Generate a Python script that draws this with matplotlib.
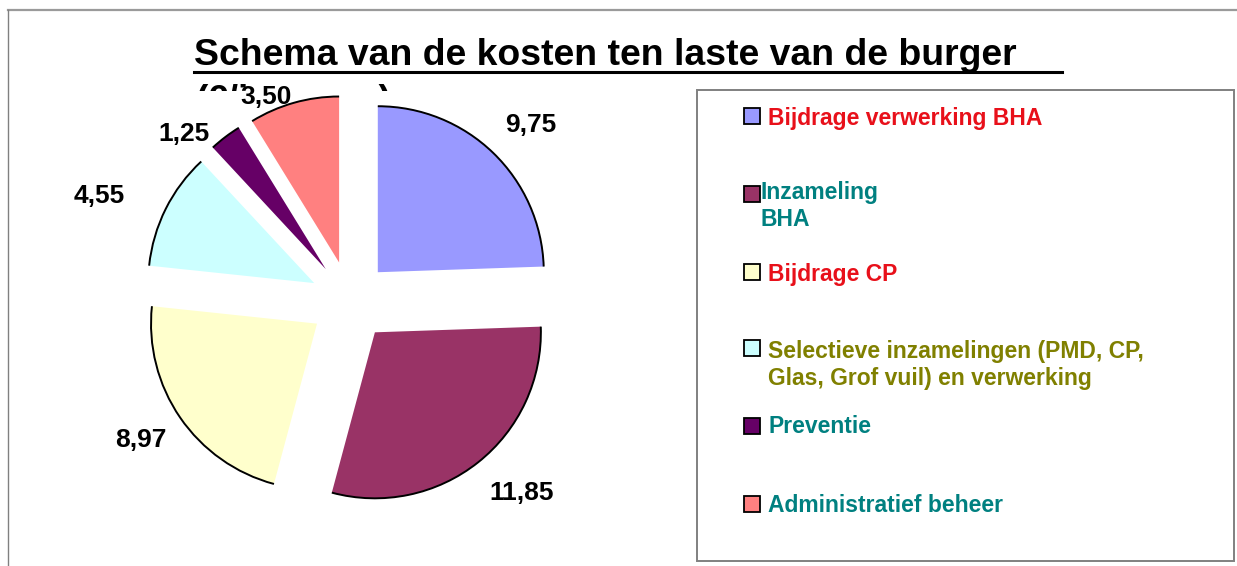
import matplotlib
matplotlib.use("Agg")
import numpy as np
import matplotlib.pyplot as plt
from matplotlib.patches import Arc, Rectangle
from matplotlib.lines import Line2D

# ---- data -------------------------------------------------------------------
CATEGORIES = [
    "Bijdrage verwerking BHA",
    "Inzameling\nBHA",
    "Bijdrage CP",
    "Selectieve inzamelingen (PMD, CP,\nGlas, Grof vuil) en verwerking",
    "Preventie",
    "Administratief beheer",
]
COSTS = [9.75, 11.85, 8.97, 4.55, 1.25, 3.50]
VALUE_LABELS = ["9,75", "11,85", "8,97", "4,55", "1,25", "3,50"]

TITLE = "Schema van de kosten ten laste van de burger"
SUBTITLE = "(€/inwoner)"

# ---- style ------------------------------------------------------------------
SLICE_COLORS = ["#9999FF", "#993366", "#FFFFCC", "#CCFFFF", "#660066", "#FF8080"]
TEXT_COLORS = ["#E8101A", "#008080", "#E8101A", "#808000", "#008080", "#008080"]
FONT = "Liberation Sans"

W, H = 1237, 566
PIE_CENTER = (350, H - 301)
PIE_RADIUS = 166
EXPLODE = 40
# radial factor and angle nudge (deg) for the value labels
LABEL_FACTOR = [1.28, 1.31, 1.27, 1.40, 1.18, 1.09]
LABEL_NUDGE = [-2, 4, -1, 4.5, 9, 8]
# legend layout (pixel rows from top: baseline of first line, top of square)
LEGEND_ROWS = [125, 198, 281, 357, 433, 512]
LEGEND_TEXT_X = [768, 760, 768, 768, 768, 768]
SQUARE_TOP = [108, 186, 264, 340, 418, 496]
LINE_STEP = 27.5

fig = plt.figure(figsize=(W / 100, H / 100), dpi=100)
ax = fig.add_axes([0, 0, 1, 1])

# pie
wedges, _ = ax.pie(
    COSTS,
    colors=SLICE_COLORS,
    startangle=90,
    counterclock=False,
    radius=PIE_RADIUS,
    center=PIE_CENTER,
    explode=[EXPLODE] * len(COSTS),
    wedgeprops=dict(linewidth=0),
    frame=True,
)
ax.set_xlim(0, W)
ax.set_ylim(0, H)
ax.set_aspect("equal")
ax.axis("off")

# outer frame (top and left edge of the chart area)
ax.add_line(Line2D([8, W], [H - 10, H - 10], color="#9a9a9a", lw=1.6))
ax.add_line(Line2D([8, 8], [0, H - 10], color="#808080", lw=1.0))

# title with underline
ax.text(194, H - 65, TITLE, fontsize=26.9, fontweight="bold", family=FONT,
        va="baseline", ha="left", color="black")
ax.add_line(Line2D([194, 1062], [H - 72, H - 72], color="black", lw=2.2))

# second title line, mostly hidden behind the plot area
sub = ax.text(195, H - 111, SUBTITLE, fontsize=26.5, fontweight="bold", family=FONT,
              va="baseline", ha="left", color="black", zorder=0)
sub.set_clip_on(True)
sub.set_clip_path(Rectangle((0, H - 91), W, 91, transform=ax.transData))

for w, lab, fac, nud in zip(wedges, VALUE_LABELS, LABEL_FACTOR, LABEL_NUDGE):
    cx, cy = w.center
    ax.add_patch(Arc((cx, cy), 2 * w.r, 2 * w.r, theta1=w.theta1, theta2=w.theta2,
                     color="black", lw=1.4))
    ang = np.deg2rad((w.theta1 + w.theta2) / 2 + nud)
    ax.text(cx + fac * w.r * np.cos(ang), cy + fac * w.r * np.sin(ang), lab,
            fontsize=19, fontweight="bold", family=FONT, ha="center", va="center")

# legend box
ax.add_patch(Rectangle((697, H - 561), 1234 - 697, 561 - 90, fill=False,
                       edgecolor="#808080", lw=1.4))
for cat, col, tcol, row, tx, top in zip(CATEGORIES, SLICE_COLORS, TEXT_COLORS,
                                        LEGEND_ROWS, LEGEND_TEXT_X, SQUARE_TOP):
    ax.add_patch(Rectangle((744, H - top - 16), 16, 16, facecolor=col,
                           edgecolor="black", lw=1.3))
    n_lines = cat.count("\n")
    # multi-line text with va='baseline' anchors the last line
    ax.text(tx, H - (row + n_lines * LINE_STEP), cat, fontsize=16.5,
            fontweight="bold", family=FONT, color=tcol, ha="left",
            va="baseline", linespacing=1.2)

fig.savefig("out.png", dpi=100, facecolor="white")
